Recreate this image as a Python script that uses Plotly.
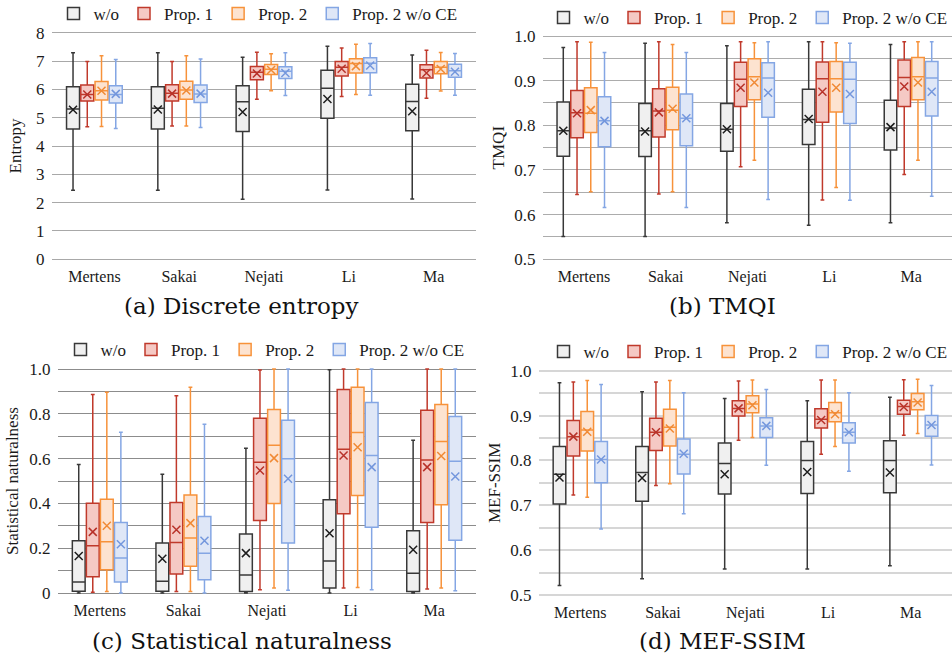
import plotly.graph_objects as go

# Category and series names
CATEGORIES = ["Mertens", "Sakai", "Nejati", "Li", "Ma"]
SERIES = ["w/o", "Prop. 1", "Prop. 2", "Prop. 2 w/o CE"]

# (a) Discrete entropy — rows follow SERIES, columns follow CATEGORIES
ENT_LO = [[2.44, 2.44, 2.12, 2.45, 2.13],
          [4.68, 4.71, 5.65, 5.75, 5.69],
          [4.69, 4.71, 5.95, 5.82, 5.94],
          [4.62, 4.65, 5.78, 5.79, 5.79]]
ENT_Q1 = [[4.60, 4.60, 4.51, 4.98, 4.54],
          [5.59, 5.59, 6.34, 6.47, 6.40],
          [5.62, 5.65, 6.52, 6.58, 6.55],
          [5.52, 5.54, 6.38, 6.59, 6.43]]
ENT_MED = [[5.31, 5.33, 5.56, 6.04, 5.57],
           [5.82, 5.86, 6.60, 6.78, 6.69],
           [5.95, 5.98, 6.71, 6.91, 6.78],
           [5.82, 5.84, 6.64, 6.92, 6.66]]
ENT_Q3 = [[6.09, 6.09, 6.13, 6.67, 6.18],
          [6.15, 6.16, 6.81, 6.98, 6.87],
          [6.28, 6.29, 6.88, 7.08, 6.98],
          [6.13, 6.15, 6.80, 7.12, 6.89]]
ENT_HI = [[7.29, 7.29, 7.13, 7.52, 7.21],
          [6.98, 6.98, 7.31, 7.46, 7.38],
          [7.19, 7.19, 7.26, 7.59, 7.30],
          [7.05, 7.07, 7.29, 7.62, 7.27]]
ENT_MEAN = [[5.28, 5.29, 5.20, 5.66, 5.23],
            [5.82, 5.85, 6.56, 6.73, 6.58],
            [5.95, 5.96, 6.68, 6.82, 6.72],
            [5.84, 5.85, 6.58, 6.84, 6.62]]

# (b) TMQI
TMQI_LO = [[0.551, 0.551, 0.582, 0.576, 0.582],
           [0.645, 0.646, 0.707, 0.633, 0.690],
           [0.651, 0.651, 0.722, 0.661, 0.722],
           [0.616, 0.616, 0.634, 0.632, 0.641]]
TMQI_Q1 = [[0.731, 0.730, 0.742, 0.757, 0.745],
           [0.772, 0.774, 0.842, 0.807, 0.842],
           [0.784, 0.790, 0.857, 0.830, 0.857],
           [0.752, 0.754, 0.818, 0.804, 0.821]]
TMQI_MED = [[0.788, 0.788, 0.791, 0.813, 0.794],
            [0.828, 0.832, 0.903, 0.904, 0.907],
            [0.827, 0.834, 0.909, 0.904, 0.909],
            [0.810, 0.816, 0.906, 0.903, 0.906]]
TMQI_Q3 = [[0.852, 0.849, 0.849, 0.881, 0.856],
           [0.878, 0.882, 0.941, 0.942, 0.946],
           [0.884, 0.885, 0.949, 0.943, 0.952],
           [0.864, 0.870, 0.940, 0.941, 0.943]]
TMQI_HI = [[0.974, 0.984, 0.978, 0.987, 0.981],
           [0.987, 0.987, 0.987, 0.987, 0.987],
           [0.986, 0.981, 0.985, 0.985, 0.987],
           [0.963, 0.963, 0.987, 0.984, 0.987]]
TMQI_MEAN = [[0.788, 0.786, 0.791, 0.814, 0.796],
             [0.827, 0.829, 0.884, 0.875, 0.887],
             [0.834, 0.837, 0.896, 0.884, 0.896],
             [0.810, 0.816, 0.873, 0.870, 0.875]]

# (c) Statistical naturalness
SN_LO = [[0.000, 0.000, 0.000, 0.000, 0.000],
         [0.003, 0.007, 0.015, 0.022, 0.018],
         [0.007, 0.007, 0.022, 0.025, 0.022],
         [0.000, 0.000, 0.012, 0.015, 0.010]]
SN_Q1 = [[0.008, 0.008, 0.007, 0.022, 0.007],
         [0.073, 0.085, 0.324, 0.354, 0.315],
         [0.104, 0.119, 0.400, 0.435, 0.394],
         [0.049, 0.059, 0.223, 0.294, 0.235]]
SN_MED = [[0.049, 0.053, 0.080, 0.143, 0.088],
          [0.211, 0.226, 0.584, 0.642, 0.594],
          [0.229, 0.245, 0.660, 0.716, 0.676],
          [0.156, 0.178, 0.599, 0.614, 0.588]]
SN_Q3 = [[0.233, 0.223, 0.263, 0.416, 0.278],
         [0.401, 0.404, 0.780, 0.908, 0.816],
         [0.419, 0.438, 0.819, 0.918, 0.841],
         [0.315, 0.342, 0.771, 0.851, 0.788]]
SN_HI = [[0.574, 0.530, 0.646, 0.997, 0.682],
         [0.886, 0.881, 0.996, 1.000, 1.000],
         [0.896, 0.918, 1.000, 1.000, 1.000],
         [0.718, 0.753, 1.000, 1.000, 1.000]]
SN_MEAN = [[0.165, 0.153, 0.178, 0.267, 0.193],
           [0.273, 0.282, 0.547, 0.614, 0.562],
           [0.300, 0.312, 0.602, 0.651, 0.612],
           [0.218, 0.233, 0.510, 0.562, 0.520]]

# (d) MEF-SSIM
MEF_LO = [[0.521, 0.536, 0.558, 0.558, 0.565],
          [0.723, 0.744, 0.845, 0.814, 0.856],
          [0.718, 0.748, 0.851, 0.831, 0.860],
          [0.647, 0.681, 0.789, 0.776, 0.790]]
MEF_Q1 = [[0.703, 0.709, 0.725, 0.726, 0.728],
          [0.810, 0.822, 0.899, 0.872, 0.903],
          [0.821, 0.832, 0.906, 0.886, 0.913],
          [0.750, 0.770, 0.851, 0.839, 0.854]]
MEF_MED = [[0.769, 0.773, 0.793, 0.800, 0.800],
           [0.853, 0.863, 0.916, 0.892, 0.920],
           [0.868, 0.874, 0.926, 0.906, 0.931],
           [0.802, 0.814, 0.877, 0.863, 0.879]]
MEF_Q3 = [[0.831, 0.831, 0.839, 0.842, 0.844],
          [0.889, 0.894, 0.933, 0.915, 0.934],
          [0.909, 0.914, 0.944, 0.929, 0.949],
          [0.842, 0.848, 0.895, 0.884, 0.900]]
MEF_HI = [[0.973, 0.953, 0.938, 0.933, 0.941],
          [0.975, 0.975, 0.977, 0.979, 0.980],
          [0.978, 0.978, 0.979, 0.979, 0.981],
          [0.969, 0.951, 0.958, 0.951, 0.967]]
MEF_MEAN = [[0.762, 0.761, 0.769, 0.774, 0.773],
            [0.853, 0.863, 0.916, 0.890, 0.919],
            [0.864, 0.871, 0.923, 0.903, 0.929],
            [0.802, 0.815, 0.877, 0.863, 0.879]]

# Y-axis gridline values and their labels (blank = unlabelled gridline)
ENT_TICKS = [0, 1, 2, 3, 4, 5, 6, 7, 8]
ENT_LABELS = ["0", "1", "2", "3", "4", "5", "6", "7", "8"]
HALF_TICKS = [0.5, 0.55, 0.6, 0.65, 0.7, 0.75, 0.8, 0.85, 0.9, 0.95, 1.0]
HALF_LABELS = ["0.5", "", "0.6", "", "0.7", "", "0.8", "", "0.9", "", "1.0"]
UNIT_TICKS = [0, 0.1, 0.2, 0.3, 0.4, 0.5, 0.6, 0.7, 0.8, 0.9, 1.0]
UNIT_LABELS = ["0", "", "0.2", "", "0.4", "", "0.6", "", "0.8", "", "1.0"]

# Styling
LINE_COLORS = ["#383838", "#c0392b", "#f7923a", "#84a6e4"]
FILL_COLORS = ["#f0f0f0", "#f5c9c4", "#fde3d0", "#dfe7f7"]
MEAN_COLORS = ["#1e1e1e", "#b8322a", "#f08a35", "#7497dd"]
SERIF = "Liberation Serif"
CAPTION_FONT = "DejaVu Serif"
W, H = 952, 659

SLOT = 0.168      # spacing between the four boxes of a group (category units)
BOX_W = 0.153     # box width (category units)
EDGE_PAD = 1.5    # px of slack so the end gridlines stay visible

panels = [
    dict(name="", lo=ENT_LO, q1=ENT_Q1, med=ENT_MED, q3=ENT_Q3, hi=ENT_HI, mean=ENT_MEAN,
         title="Entropy", caption="(a) Discrete entropy",
         xpx=(52, 476), ypx=(32.7, 259.3), yrange=[0, 8],
         tickvals=ENT_TICKS, ticktext=ENT_LABELS, grid="#a8a8a8", gw=1, standoff=10,
         legend_xy=(258, 14), caption_xy=(241, 306)),
    dict(name="2", lo=TMQI_LO, q1=TMQI_Q1, med=TMQI_MED, q3=TMQI_Q3, hi=TMQI_HI, mean=TMQI_MEAN,
         title="TMQI", caption="(b) TMQI",
         xpx=(543, 952), ypx=(36, 259.3), yrange=[0.5, 1.0],
         tickvals=HALF_TICKS, ticktext=HALF_LABELS, grid="#acacac", gw=1, standoff=5,
         legend_xy=(748, 18), caption_xy=(722, 306)),
    dict(name="3", lo=SN_LO, q1=SN_Q1, med=SN_MED, q3=SN_Q3, hi=SN_HI, mean=SN_MEAN,
         title="Statistical naturalness", caption="(c) Statistical naturalness",
         xpx=(58, 476), ypx=(369, 593), yrange=[0, 1.0],
         tickvals=UNIT_TICKS, ticktext=UNIT_LABELS, grid="#8c8c8c", gw=1, standoff=6,
         legend_xy=(265, 350), caption_xy=(242, 641)),
    dict(name="4", lo=MEF_LO, q1=MEF_Q1, med=MEF_MED, q3=MEF_Q3, hi=MEF_HI, mean=MEF_MEAN,
         title="MEF-SSIM", caption="(d) MEF-SSIM",
         xpx=(539, 952), ypx=(370.7, 595), yrange=[0.5, 1.0],
         tickvals=HALF_TICKS, ticktext=HALF_LABELS, grid="#d6d6d6", gw=1.5, standoff=5,
         legend_xy=(748, 352), caption_xy=(722, 641)),
]

fig = go.Figure()
annotations = []

for p in panels:
    xa = "x" + p["name"]
    ya = "y" + p["name"]
    leg = "legend" + p["name"]
    for j, s in enumerate(SERIES):
        pos = [i + (j - 1.5) * SLOT for i in range(len(CATEGORIES))]
        fig.add_trace(go.Box(
            name=s, x=pos,
            lowerfence=p["lo"][j], q1=p["q1"][j], median=p["med"][j],
            q3=p["q3"][j], upperfence=p["hi"][j],
            width=BOX_W, whiskerwidth=0.3,
            fillcolor=FILL_COLORS[j],
            line=dict(color=LINE_COLORS[j], width=1.5),
            boxpoints=False, hoverinfo="skip",
            xaxis=xa, yaxis=ya, legend=leg, showlegend=True,
        ))
        fig.add_trace(go.Scatter(
            x=pos, y=p["mean"][j], mode="markers",
            marker=dict(symbol="x-thin", size=8,
                        line=dict(color=MEAN_COLORS[j], width=1.5)),
            hoverinfo="skip", showlegend=False,
            xaxis=xa, yaxis=ya,
        ))

    x0, x1 = p["xpx"]
    ytop, ybot = p["ypx"]
    lo_v, hi_v = p["yrange"]
    per_px = (hi_v - lo_v) / (ybot - ytop)
    yr = [lo_v - EDGE_PAD * per_px, hi_v + EDGE_PAD * per_px]
    ytop -= EDGE_PAD
    ybot += EDGE_PAD

    fig.update_layout({
        "xaxis" + p["name"]: dict(
            domain=[x0 / W, x1 / W], anchor=ya, range=[-0.5, 4.5],
            tickmode="array", tickvals=list(range(len(CATEGORIES))), ticktext=CATEGORIES,
            showgrid=False, zeroline=False, showline=False,
            ticks="outside", ticklen=1, tickcolor="rgba(0,0,0,0)",
            tickfont=dict(family=SERIF, size=16, color="#1a1a1a"),
        ),
        "yaxis" + p["name"]: dict(
            domain=[1 - ybot / H, 1 - ytop / H], anchor=xa, range=yr,
            tickmode="array", tickvals=p["tickvals"], ticktext=p["ticktext"],
            showgrid=True, gridcolor=p["grid"], gridwidth=p["gw"],
            zeroline=False, showline=False,
            ticks="outside", ticklen=3, tickcolor="rgba(0,0,0,0)",
            tickfont=dict(family=SERIF, size=17, color="#1a1a1a"),
            title=dict(text=p["title"], font=dict(family=SERIF, size=17, color="#1a1a1a"),
                       standoff=p["standoff"]),
        ),
        leg: dict(
            orientation="h", x=p["legend_xy"][0] / W, y=1 - p["legend_xy"][1] / H,
            xanchor="center", yanchor="middle",
            font=dict(family=SERIF, size=17, color="#1a1a1a"),
            bgcolor="rgba(0,0,0,0)",
        ),
    })
    cx, cy = p["caption_xy"]
    annotations.append(dict(
        text=p["caption"], x=cx / W, y=1 - cy / H,
        xref="paper", yref="paper", xanchor="center", yanchor="middle",
        showarrow=False, font=dict(family=CAPTION_FONT, size=23, color="#111111"),
    ))

fig.update_layout(
    width=W, height=H,
    margin=dict(l=0, r=0, t=0, b=0, autoexpand=False),
    paper_bgcolor="#ffffff", plot_bgcolor="rgba(255,255,255,0)",
    font=dict(family=SERIF, size=17, color="#1a1a1a"),
    boxmode="overlay",
    showlegend=True,
    annotations=annotations,
)
fig.write_html("out.html")
